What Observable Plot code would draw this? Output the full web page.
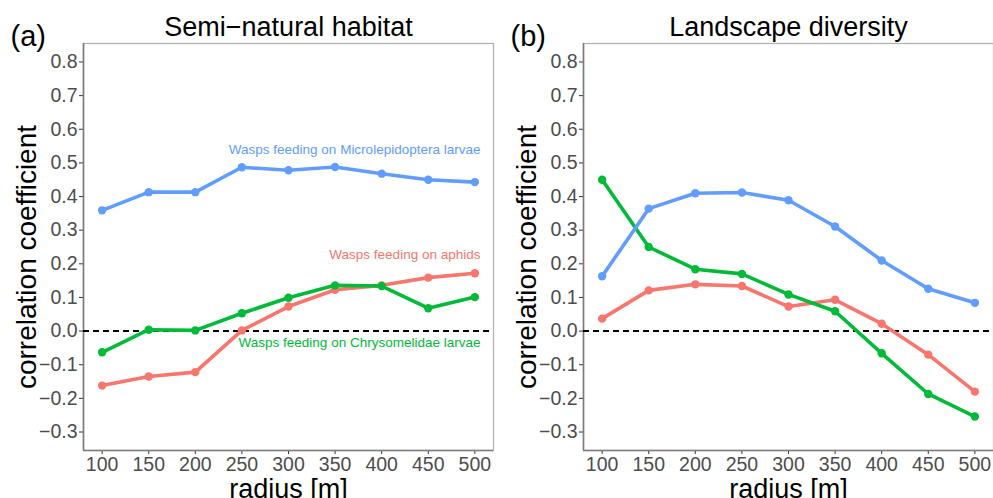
<!DOCTYPE html>
<html><head><meta charset="utf-8">
<script src="https://cdn.jsdelivr.net/npm/d3@7"></script>
<script src="https://cdn.jsdelivr.net/npm/@observablehq/plot@0.6"></script>
<style>
body{margin:0;background:#fff;overflow:hidden;}
#c{display:flex;flex-direction:row;width:993px;height:498px;}
</style>
</head><body><div id="c"></div><script>
const radius = [100, 150, 200, 250, 300, 350, 400, 450, 500];
const yTicks = [-0.3, -0.2, -0.1, 0, 0.1, 0.2, 0.3, 0.4, 0.5, 0.6, 0.7, 0.8];
const series = ["aphids", "Chrysomelidae", "Microlepidoptera"];
const seriesColors = ["#F8766D", "#00BA38", "#619CFF"];

// (a) Semi-natural habitat
const snAphid  = [-0.162, -0.135, -0.122, 0.002, 0.073, 0.123, 0.136, 0.159, 0.172];
const snChryso = [-0.063, 0.004, 0.002, 0.053, 0.099, 0.136, 0.134, 0.068, 0.101];
const snMicro  = [0.359, 0.413, 0.413, 0.487, 0.478, 0.488, 0.468, 0.450, 0.443];

// (b) Landscape diversity
const ldAphid  = [0.037, 0.121, 0.139, 0.134, 0.073, 0.093, 0.022, -0.070, -0.180];
const ldChryso = [0.450, 0.250, 0.184, 0.170, 0.109, 0.059, -0.066, -0.187, -0.254];
const ldMicro  = [0.163, 0.364, 0.410, 0.412, 0.389, 0.311, 0.210, 0.126, 0.084];

const labelTexts = ["Wasps feeding on Microlepidoptera larvae", "Wasps feeding on aphids", "Wasps feeding on Chrysomelidae larvae"];
const labelSeries = ["Microlepidoptera", "aphids", "Chrysomelidae"];
const labelX = [506, 506, 506];
const labelY = [0.539, 0.228, -0.035];

const FONT = "'Liberation Sans', Arial, Helvetica, sans-serif";

function panel(tag, title, aphid, chryso, micro, withLabels, width, marginRight) {
  const rows = [];
  radius.forEach((r, i) => {
    rows.push({r, v: aphid[i], s: "aphids"});
    rows.push({r, v: chryso[i], s: "Chrysomelidae"});
    rows.push({r, v: micro[i], s: "Microlepidoptera"});
  });
  const labels = withLabels ? labelTexts.map((t, i) => ({t, s: labelSeries[i], x: labelX[i], y: labelY[i]})) : [];
  return Plot.plot({
    width, height: 498,
    marginLeft: 83, marginRight, marginTop: 43, marginBottom: 48,
    style: {fontFamily: FONT, background: "white", overflow: "visible"},
    x: {domain: [80, 520]},
    y: {domain: [-0.355, 0.855]},
    color: {domain: series, range: seriesColors},
    marks: [
      Plot.frame({stroke: "#b0b0b0", strokeWidth: 1.2}),
      Plot.axisX({ticks: radius, tickSize: 4, tickPadding: 3, fontSize: 19.5, color: "#4d4d4d", stroke: "#333", label: null}),
      Plot.axisY({ticks: yTicks, tickSize: 4, tickPadding: 2, fontSize: 19.5, color: "#4d4d4d", stroke: "#333", label: null, tickFormat: d3.format(".1f")}),
      Plot.ruleX([80], {stroke: "#7a7a7a", strokeWidth: 1.6}),
      Plot.ruleY([-0.355], {stroke: "#7a7a7a", strokeWidth: 1.6}),
      Plot.ruleY([0], {stroke: "black", strokeWidth: 2, strokeDasharray: "6,4"}),
      Plot.line(rows, {x: "r", y: "v", z: "s", stroke: "s", strokeWidth: 3.6}),
      Plot.dot(rows, {x: "r", y: "v", fill: "s", r: 4.2}),
      Plot.text(labels, {x: "x", y: "y", text: "t", fill: "s", textAnchor: "end", fontSize: 13.5}),
      Plot.text([title], {frameAnchor: "top", dy: -8, lineAnchor: "bottom", fontSize: 27, fill: "black"}),
      Plot.text([tag], {frameAnchor: "top-left", dx: -73, dy: 2, lineAnchor: "bottom", textAnchor: "start", fontSize: 29, fill: "black"}),
      Plot.text(["correlation coefficient"], {frameAnchor: "left", dx: -56, dy: 10, rotate: -90, textAnchor: "middle", lineAnchor: "middle", fontSize: 28, fill: "black"}),
      Plot.text(["radius [m]"], {frameAnchor: "bottom", dy: 39, lineAnchor: "middle", fontSize: 27, fill: "black"})
    ]
  });
}

const c = document.getElementById("c");
c.append(panel("(a)", "Semi\u2212natural habitat", snAphid, snChryso, snMicro, true, 500, 7));
c.append(panel("(b)", "Landscape diversity", ldAphid, ldChryso, ldMicro, false, 493, 0));
</script></body></html>
